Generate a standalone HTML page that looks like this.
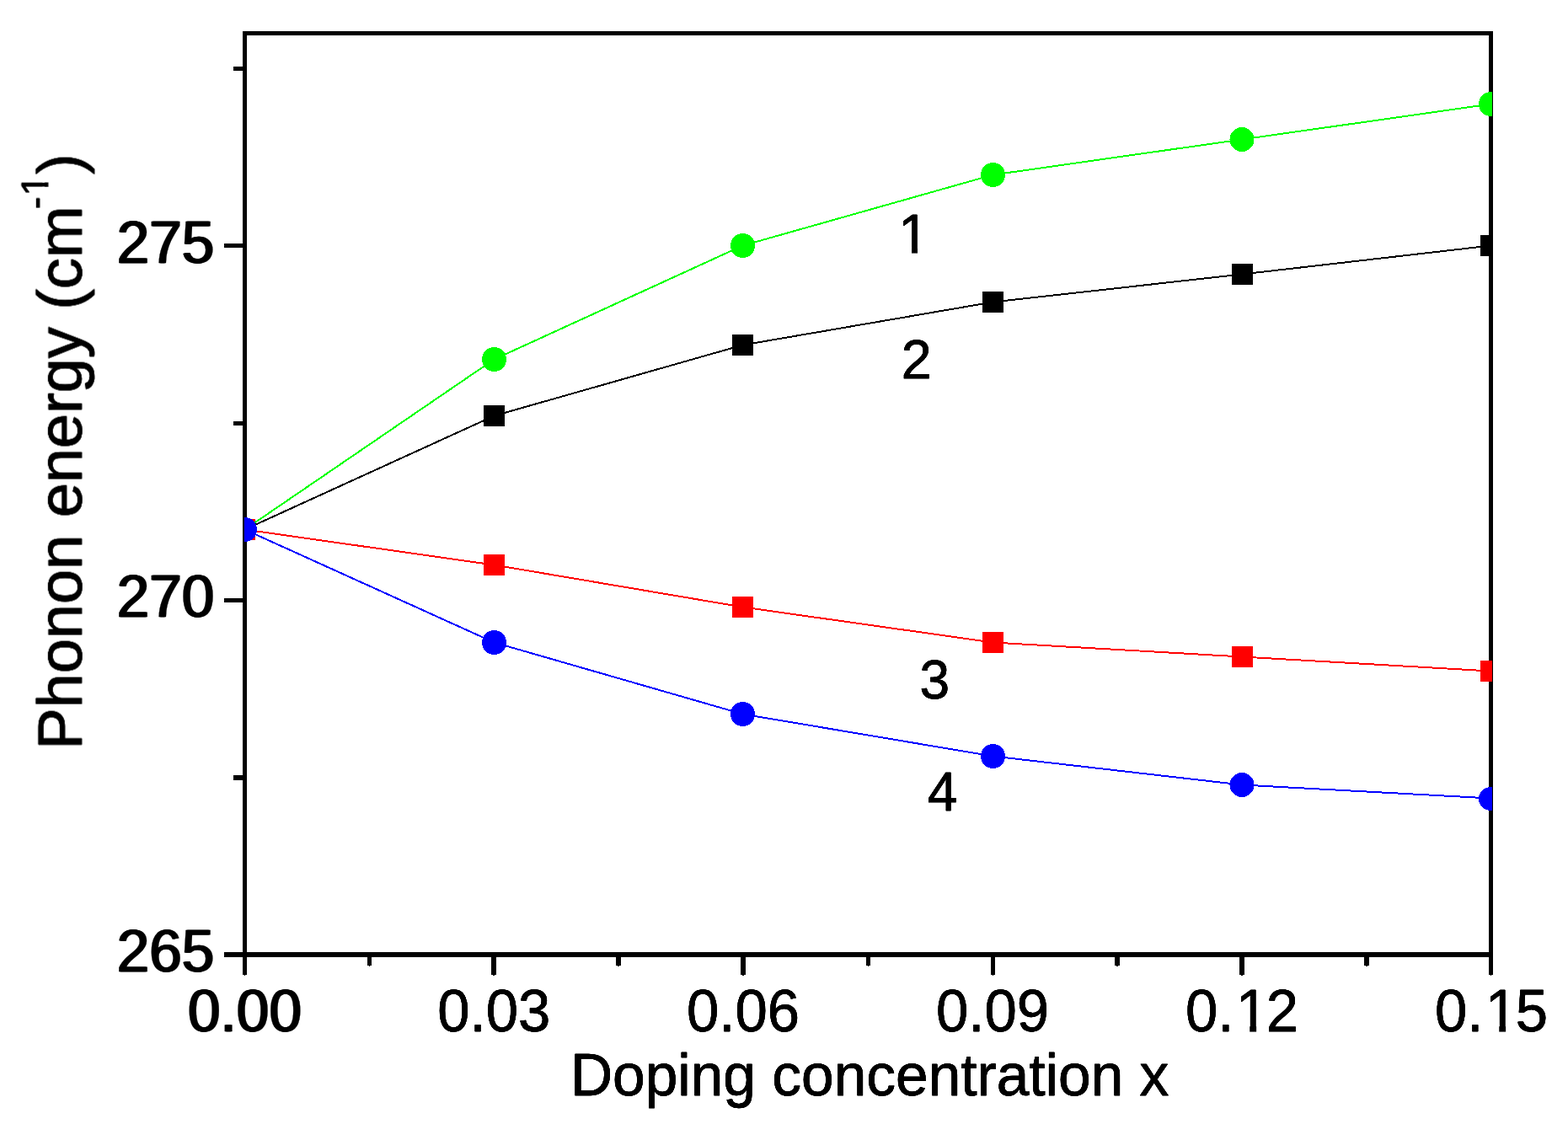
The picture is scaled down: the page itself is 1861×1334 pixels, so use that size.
<!DOCTYPE html>
<html lang="en"><head><meta charset="utf-8"><title>Phonon energy vs doping concentration</title>
<style>html,body{margin:0;padding:0;background:#fff}body{width:1861px;height:1334px;overflow:hidden}svg{display:block}text{font-family:"Liberation Sans",sans-serif;fill:#000;stroke:#000;stroke-linejoin:round}</style>
</head><body>
<svg width="1861" height="1334" viewBox="0 0 1861 1334">
<rect width="1861" height="1334" fill="#fff"/>
<defs>
<clipPath id="plot"><rect x="290" y="37" width="1481" height="1099"/></clipPath>
<filter id="b20" x="-10%" y="-20%" width="120%" height="140%" color-interpolation-filters="sRGB"><feOffset dx="0.2" result="p"/><feOffset in="SourceGraphic" dx="-0.2" result="m"/><feMerge><feMergeNode in="p"/><feMergeNode in="m"/><feMergeNode in="SourceGraphic"/></feMerge></filter>
<filter id="b30" x="-10%" y="-20%" width="120%" height="140%" color-interpolation-filters="sRGB"><feOffset dx="0.3" result="p"/><feOffset in="SourceGraphic" dx="-0.3" result="m"/><feMerge><feMergeNode in="p"/><feMergeNode in="m"/><feMergeNode in="SourceGraphic"/></feMerge></filter>
<filter id="b50" x="-10%" y="-20%" width="120%" height="140%" color-interpolation-filters="sRGB"><feOffset dx="0.5" result="p"/><feOffset in="SourceGraphic" dx="-0.5" result="m"/><feMerge><feMergeNode in="p"/><feMergeNode in="m"/><feMergeNode in="SourceGraphic"/></feMerge></filter>
<clipPath id="c1"><path clip-rule="evenodd" d="M-400,-200H600V100H-400ZM-4.65,-8.15H9.15V6.00H-4.65ZM17.05,-8.15H30.30V6.00H17.05Z"/></clipPath>
<clipPath id="c2"><path clip-rule="evenodd" d="M-400,-200H600V100H-400ZM-4.65,-8.15H9.15V6.00H-4.65ZM17.05,-8.15H30.30V6.00H17.05Z"/></clipPath>
<clipPath id="c3"><path clip-rule="evenodd" d="M-400,-200H600V100H-400ZM2.27,-7.78H15.44V6.00H2.27ZM22.40,-7.78H35.07V6.00H22.40Z"/></clipPath>
<clipPath id="cy"><path clip-rule="evenodd" d="M-40,-120H760V60H-40ZM658.75,-46.42H668.45V-36.10H658.75ZM673.78,-46.42H683.14V-36.10H673.78Z"/></clipPath>
</defs>
<g fill="#000" shape-rendering="crispEdges">
<rect x="288" y="37" width="5" height="1120"/>
<rect x="1767" y="37" width="5" height="1120"/>
<rect x="288" y="37" width="1484" height="5"/>
<rect x="266" y="1130" width="1506" height="6"/>
<rect x="266" y="289" width="24" height="5"/>
<rect x="266" y="710" width="24" height="5"/>
<rect x="277" y="79" width="13" height="5"/>
<rect x="277" y="500" width="13" height="5"/>
<rect x="277" y="920" width="13" height="6"/>
<rect x="583" y="1133" width="6" height="24"/>
<rect x="585" y="1157" width="2" height="1"/>
<rect x="879" y="1133" width="6" height="24"/>
<rect x="881" y="1157" width="2" height="1"/>
<rect x="1176" y="1133" width="5" height="24"/>
<rect x="1178" y="1157" width="1" height="1"/>
<rect x="1471" y="1133" width="6" height="24"/>
<rect x="1473" y="1157" width="2" height="1"/>
<rect x="436" y="1133" width="5" height="13"/>
<rect x="438" y="1146" width="1" height="1"/>
<rect x="731" y="1133" width="6" height="13"/>
<rect x="733" y="1146" width="2" height="1"/>
<rect x="1028" y="1133" width="5" height="13"/>
<rect x="1030" y="1146" width="1" height="1"/>
<rect x="1323" y="1133" width="6" height="13"/>
<rect x="1325" y="1146" width="2" height="1"/>
<rect x="1619" y="1133" width="6" height="13"/>
<rect x="1621" y="1146" width="2" height="1"/>
<rect x="290" y="1157" width="1" height="1"/><rect x="1769" y="1157" width="1" height="1"/>
</g>
<g clip-path="url(#plot)" shape-rendering="crispEdges">
<polyline points="290.5,628.5 586.5,493.5 881.5,409.5 1178.5,358.5 1474.0,325.5 1769.5,291.5" fill="none" stroke="#000000" stroke-width="2.0"/>
<rect x="278" y="616" width="25" height="25" fill="#000000"/>
<rect x="574" y="481" width="25" height="25" fill="#000000"/>
<rect x="869" y="397" width="25" height="25" fill="#000000"/>
<rect x="1166" y="346" width="25" height="25" fill="#000000"/>
<rect x="1462" y="313" width="25" height="25" fill="#000000"/>
<rect x="1757" y="279" width="25" height="25" fill="#000000"/>
<polyline points="290.5,628.5 586.5,670.5 881.5,720.5 1178.5,762.5 1474.0,779.5 1769.5,796.5" fill="none" stroke="#ff0000" stroke-width="2.0"/>
<rect x="278" y="616" width="25" height="25" fill="#ff0000"/>
<rect x="574" y="658" width="25" height="25" fill="#ff0000"/>
<rect x="869" y="708" width="25" height="25" fill="#ff0000"/>
<rect x="1166" y="750" width="25" height="25" fill="#ff0000"/>
<rect x="1462" y="767" width="25" height="25" fill="#ff0000"/>
<rect x="1757" y="784" width="25" height="25" fill="#ff0000"/>
<polyline points="290.5,628.5 586.5,426.5 881.5,291.5 1178.5,207.5 1474.0,165.5 1769.5,123.5" fill="none" stroke="#00ff00" stroke-width="2.0"/>
<circle cx="290.5" cy="628.5" r="14.5" fill="#00ff00"/>
<circle cx="586.5" cy="426.5" r="14.5" fill="#00ff00"/>
<circle cx="881.5" cy="291.5" r="14.5" fill="#00ff00"/>
<circle cx="1178.5" cy="207.5" r="14.5" fill="#00ff00"/>
<circle cx="1474" cy="165.5" r="14.5" fill="#00ff00"/>
<circle cx="1769.5" cy="123.5" r="14.5" fill="#00ff00"/>
<polyline points="290.5,628.5 586.5,762.5 881.5,847.5 1178.5,897.5 1474.0,931.5 1769.5,947.5" fill="none" stroke="#0000ff" stroke-width="2.0"/>
<circle cx="290.5" cy="628.5" r="14.5" fill="#0000ff"/>
<circle cx="586.5" cy="762.5" r="14.5" fill="#0000ff"/>
<circle cx="881.5" cy="847.5" r="14.5" fill="#0000ff"/>
<circle cx="1178.5" cy="897.5" r="14.5" fill="#0000ff"/>
<circle cx="1474" cy="931.5" r="14.5" fill="#0000ff"/>
<ellipse cx="1769.5" cy="948" rx="14.5" ry="14" fill="#0000ff"/>
</g>
<text transform="translate(254.30 1152.80) scale(1.004 1.02)" font-size="69" stroke-width="0.3" text-anchor="end" filter="url(#b50)">265</text>
<text transform="translate(254.30 732.22) scale(1.004 1.02)" font-size="69" stroke-width="0.3" text-anchor="end" filter="url(#b50)">270</text>
<text transform="translate(254.30 311.65) scale(1.004 1.02)" font-size="69" stroke-width="0.3" text-anchor="end" filter="url(#b50)">275</text>
<text transform="translate(290.50 1223.90) scale(1.004 1.02)" font-size="69" stroke-width="0.3" text-anchor="middle" filter="url(#b50)">0.00</text>
<text transform="translate(586.30 1223.90) scale(0.999 1.02)" font-size="69" stroke-width="0.3" text-anchor="middle" filter="url(#b50)">0.03</text>
<text transform="translate(882.10 1223.90) scale(0.999 1.02)" font-size="69" stroke-width="0.3" text-anchor="middle" filter="url(#b50)">0.06</text>
<text transform="translate(1178.10 1223.90) scale(0.999 1.02)" font-size="69" stroke-width="0.3" text-anchor="middle" filter="url(#b50)">0.09</text>
<text transform="translate(1474.10 1223.90) scale(0.999 1.02)" font-size="69" stroke-width="0.3" text-anchor="middle" filter="url(#b50)" dx="0 0 2.3 -2.3" clip-path="url(#c1)">0.12</text>
<text transform="translate(1770.10 1223.90) scale(0.999 1.02)" font-size="69" stroke-width="0.3" text-anchor="middle" filter="url(#b50)" dx="0 0 2.3 -2.3" clip-path="url(#c2)">0.15</text>
<text transform="translate(1066.60 300.20) scale(1.0 1.025)" font-size="64" stroke-width="0.4" filter="url(#b20)" clip-path="url(#c3)">1</text>
<text transform="translate(1087.80 449.40) scale(1.01 1.0)" font-size="64" stroke-width="0.4" text-anchor="middle" filter="url(#b20)">2</text>
<text transform="translate(1109.40 829.00) scale(1.0 1.02)" font-size="64" stroke-width="0.4" text-anchor="middle" filter="url(#b20)">3</text>
<text transform="translate(1118.50 962.30) scale(1.0 1.02)" font-size="64" stroke-width="0.4" text-anchor="middle" filter="url(#b20)">4</text>
<text transform="translate(676.90 1299.60) scale(0.9925 1.0)" font-size="70" stroke-width="0.4" filter="url(#b50)">Doping concentration x</text>
<text transform="translate(96.8 889.6) rotate(-90) scale(0.999 1)" font-size="74" stroke-width="0.6" filter="url(#b30)" clip-path="url(#cy)">Phonon energy (cm<tspan x="641.94" y="-40.10" dx="0 1.2" font-size="44.5" stroke-width="0.3">-1</tspan><tspan x="683.08" y="0" font-size="74.5" stroke-width="0.3">)</tspan></text>
</svg></body></html>
